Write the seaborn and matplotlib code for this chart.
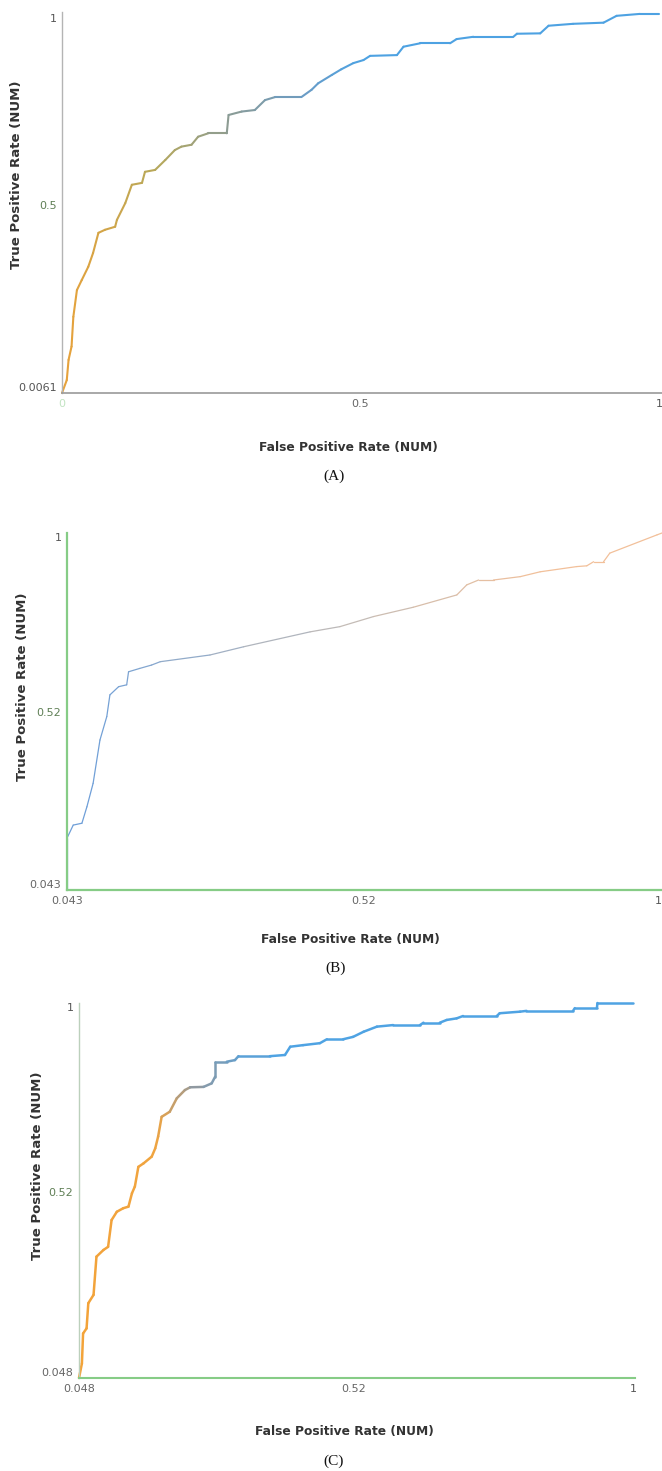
"""
Three ROC threshold curves (A, B, C) stacked vertically, Weka-style
"""

import numpy as np
import pandas as pd
import matplotlib
matplotlib.use('Agg')
import matplotlib.pyplot as plt
from matplotlib.colors import LinearSegmentedColormap, to_hex
import seaborn as sns

# Panel A
fpr_a = [0.0, 0.008, 0.011, 0.016, 0.019, 0.025, 0.033, 0.044, 0.052, 0.061, 0.072, 0.089, 0.092,
         0.106, 0.117, 0.134, 0.139, 0.156, 0.173, 0.189, 0.200, 0.217, 0.228, 0.245, 0.276, 0.279,
         0.301, 0.323, 0.340, 0.357, 0.401, 0.418, 0.429, 0.452, 0.468, 0.488, 0.505, 0.516, 0.561,
         0.572, 0.600, 0.650, 0.661, 0.689, 0.756, 0.762, 0.801, 0.815, 0.856, 0.907, 0.929, 0.968, 1.0]
tpr_a = [0.0061, 0.040, 0.093, 0.128, 0.206, 0.276, 0.302, 0.337, 0.373, 0.426, 0.434, 0.442, 0.460,
         0.504, 0.552, 0.557, 0.586, 0.591, 0.617, 0.643, 0.652, 0.657, 0.678, 0.687, 0.687, 0.735,
         0.744, 0.748, 0.774, 0.782, 0.782, 0.801, 0.818, 0.840, 0.855, 0.871, 0.879, 0.890, 0.892,
         0.914, 0.923, 0.923, 0.934, 0.940, 0.940, 0.948, 0.949, 0.969, 0.974, 0.977, 0.995, 1.0, 1.0]

# Panel B
fpr_b = [0.043, 0.043, 0.053, 0.067, 0.075, 0.085, 0.096, 0.107, 0.112, 0.126, 0.139, 0.142, 0.160,
         0.179, 0.193, 0.273, 0.327, 0.434, 0.482, 0.536, 0.600, 0.670, 0.686, 0.705, 0.729, 0.772,
         0.804, 0.863, 0.879, 0.890, 0.906, 0.916, 0.992, 1.0]
tpr_b = [0.043, 0.182, 0.217, 0.222, 0.266, 0.329, 0.445, 0.508, 0.566, 0.588, 0.593, 0.628, 0.637,
         0.646, 0.655, 0.673, 0.695, 0.735, 0.749, 0.776, 0.801, 0.834, 0.861, 0.874, 0.874, 0.883,
         0.896, 0.910, 0.912, 0.923, 0.923, 0.946, 0.995, 1.0]

# Panel C
fpr_c = [0.048, 0.053, 0.055, 0.061, 0.064, 0.073, 0.078, 0.090, 0.098, 0.104, 0.113, 0.124, 0.133,
         0.139, 0.144, 0.150, 0.159, 0.173, 0.179, 0.184, 0.190, 0.204, 0.216, 0.230, 0.239, 0.262,
         0.276, 0.282, 0.282, 0.302, 0.316, 0.322, 0.376, 0.402, 0.411, 0.433, 0.462, 0.474, 0.502,
         0.519, 0.537, 0.560, 0.588, 0.634, 0.640, 0.668, 0.680, 0.697, 0.708, 0.766, 0.771, 0.806,
         0.817, 0.897, 0.900, 0.938, 0.939, 1.0]
tpr_c = [0.048, 0.085, 0.161, 0.174, 0.238, 0.259, 0.356, 0.373, 0.381, 0.449, 0.470, 0.479, 0.483,
         0.517, 0.534, 0.584, 0.593, 0.610, 0.631, 0.661, 0.711, 0.724, 0.758, 0.779, 0.786, 0.787,
         0.796, 0.813, 0.851, 0.851, 0.855, 0.865, 0.865, 0.868, 0.889, 0.893, 0.898, 0.908, 0.908,
         0.914, 0.927, 0.940, 0.944, 0.944, 0.950, 0.950, 0.957, 0.961, 0.967, 0.967, 0.974, 0.978,
         0.980, 0.980, 0.987, 0.987, 1.0, 1.0]

ticks_a = [0.0061, 0.5, 1]
xticks_a = [0, 0.5, 1]
ticks_b = [0.043, 0.52, 1]
ticks_c = [0.048, 0.52, 1]

YLABEL = 'True Positive Rate (NUM)'
XLABEL = 'False Positive Rate (NUM)'

W, H = 662, 1471

sns.set_style('white')
plt.rcParams['font.family'] = ['DejaVu Sans']

fig = plt.figure(figsize=(W / 100, H / 100), dpi=100)


def px_axes(left, right, top, bottom):
    return fig.add_axes([left / W, 1 - bottom / H, (right - left) / W, (bottom - top) / H])


def draw_curve(ax, fpr, tpr, cmap, span, lw, alpha=1.0):
    fpr = np.asarray(fpr, dtype=float)
    tpr = np.asarray(tpr, dtype=float)
    t = np.clip((fpr - span[0]) / (span[1] - span[0]), 0, 1)
    rows, palette = [], {}
    for i in range(len(fpr) - 1):
        key = f's{i:03d}'
        rows.append((key, fpr[i], tpr[i]))
        rows.append((key, fpr[i + 1], tpr[i + 1]))
        palette[key] = to_hex(cmap((t[i] + t[i + 1]) / 2))
    df = pd.DataFrame(rows, columns=['seg', 'fpr', 'tpr'])
    sns.lineplot(data=df, x='fpr', y='tpr', hue='seg', palette=palette, estimator=None,
                 sort=False, legend=False, lw=lw, alpha=alpha, ax=ax,
                 solid_capstyle='round', clip_on=False)
    ax.set_xlabel('')
    ax.set_ylabel('')


def style_axes(ax, xlim, ylim, xt, xl, yt, yl, left_col, bottom_col, lw_left, lw_bottom,
               xcols, ycols, last_x_right=False):
    ax.set_xlim(*xlim)
    ax.set_ylim(*ylim)
    for s in ['top', 'right']:
        ax.spines[s].set_visible(False)
    ax.spines['left'].set_color(left_col)
    ax.spines['left'].set_linewidth(lw_left)
    ax.spines['bottom'].set_color(bottom_col)
    ax.spines['bottom'].set_linewidth(lw_bottom)
    ax.set_xticks(xt)
    ax.set_xticklabels(xl)
    ax.set_yticks(yt)
    ax.set_yticklabels(yl)
    ax.tick_params(length=0, labelsize=8, pad=4)
    for lab, c in zip(ax.get_xticklabels(), xcols):
        lab.set_color(c)
    for lab, c in zip(ax.get_yticklabels(), ycols):
        lab.set_color(c)
    ylabs = ax.get_yticklabels()
    ylabs[0].set_va('bottom')
    ylabs[-1].set_va('top')
    if last_x_right:
        ax.get_xticklabels()[-1].set_ha('right')
    ax.set_facecolor('white')


def put_text(x, y, s, **kw):
    fig.text(x / W, 1 - y / H, s, ha='center', va='center', **kw)


# --- Panel A ---
cmap_a = LinearSegmentedColormap.from_list(
    'a', [(0, '#e6a23c'), (0.3, '#b7a95a'), (0.55, '#8c9c94'), (0.8, '#6c9cc4'), (1, '#4ea2e2')])
ax_a = px_axes(62, 662, 12, 393)
draw_curve(ax_a, fpr_a, tpr_a, cmap_a, (0.01, 0.5), 1.5)
style_axes(ax_a, (0, 1.005), (0.0061, 1.005), xticks_a, ['0', '0.5', '1'],
           ticks_a, ['0.0061', '0.5', '1'], '#b4b4b4', '#9a9a9a', 1.0, 1.2,
           ['#c2e4c2', '#666666', '#555555'], ['#555555', '#5f7f55', '#555555'])

# --- Panel B ---
cmap_b = LinearSegmentedColormap.from_list(
    'b', [(0, '#6f9fd8'), (0.35, '#a9b3c0'), (0.6, '#c4bcb6'), (1, '#f2c09a')])
ax_b = px_axes(67, 662, 533, 890)
draw_curve(ax_b, fpr_b, tpr_b, cmap_b, (0.08, 0.8), 0.9)
style_axes(ax_b, (0.043, 1.0), (0.043, 1.0), ticks_b, ['0.043', '0.52', '1'],
           ticks_b, ['0.043', '0.52', '1'], '#86cc86', '#86cc86', 1.6, 1.6,
           ['#666666', '#666666', '#555555'], ['#666666', '#5f7f55', '#555555'],
           last_x_right=True)

# --- Panel C ---
cmap_c = LinearSegmentedColormap.from_list(
    'c', [(0, '#f4a236'), (0.5, '#f0a440'), (0.7, '#8f99a2'), (1, '#4fa3e3')])
ax_c = px_axes(79, 635, 1003, 1378)
draw_curve(ax_c, fpr_c, tpr_c, cmap_c, (0.0, 0.36), 1.8)
style_axes(ax_c, (0.048, 1.0035), (0.048, 1.0), ticks_c, ['0.048', '0.52', '1'],
           ticks_c, ['0.048', '0.52', '1'], '#bcd0bc', '#86cc86', 1.0, 1.5,
           ['#666666', '#666666', '#555555'], ['#666666', '#5f7f55', '#555555'])

# axis titles and captions
lab_kw = dict(fontsize=9.5, fontweight='bold', color='#333333')
xlab_kw = dict(fontsize=8.8, fontweight='bold', color='#333333')
cap_kw = dict(fontsize=11, color='#111111', family=['Liberation Serif', 'DejaVu Serif'])

put_text(17, 175, YLABEL, rotation=90, **lab_kw)
put_text(348, 448, XLABEL, **xlab_kw)
put_text(334, 476, '(A)', **cap_kw)

put_text(23, 687, YLABEL, rotation=90, **lab_kw)
put_text(350, 940, XLABEL, **xlab_kw)
put_text(336, 968, '(B)', **cap_kw)

put_text(38, 1166, YLABEL, rotation=90, **lab_kw)
put_text(344, 1432, XLABEL, **xlab_kw)
put_text(334, 1461, '(C)', **cap_kw)

fig.savefig('out.png', dpi=100, facecolor='white')
